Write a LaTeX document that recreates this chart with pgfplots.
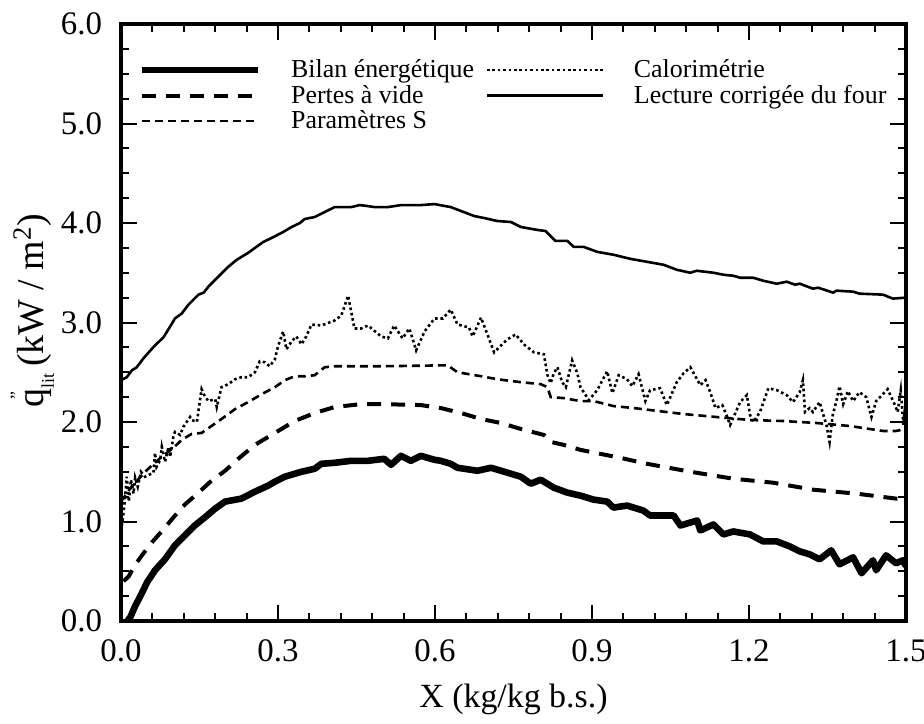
\documentclass[border=0pt]{standalone}
\usepackage{pgfplots}
\pgfplotsset{compat=1.18}
\usepackage{fontspec}
\setmainfont{Liberation Serif}

\begin{document}
\begin{tikzpicture}
\begin{axis}[
  name=ax,
  scale only axis,
  width=392.5bp, height=298.5bp,
  xmin=0, xmax=1.5, ymin=0, ymax=6,
  xtick={0,0.3,0.6,0.9,1.2,1.5},
  xticklabels={0.0,0.3,0.6,0.9,1.2,1.5},
  ytick={0,1,2,3,4,5,6},
  yticklabels={0.0,1.0,2.0,3.0,4.0,5.0,6.0},
  minor x tick num=4, minor y tick num=3,
  tick align=inside,
  major tick length=8bp, minor tick length=4bp,
  every tick/.style={black, line width=1bp},
  axis line style={line width=1.7bp},
  tick label style={font=\fontsize{16.5}{18}\selectfont},
  xticklabel style={yshift=-6bp},
  yticklabel style={xshift=-6bp},
  xlabel={X (kg/kg b.s.)},
  ylabel={q\llap{\raisebox{1.2ex}{\small ''\,}}\raisebox{-0.6ex}{\small lit}\,(kW / m\textsuperscript{2})},
  xlabel style={font=\fontsize{17}{19}\selectfont, at={(axis description cs:0.5,-0.131)}, anchor=center},
  ylabel style={font=\fontsize{19}{21}\selectfont, at={(axis description cs:-0.113,0.52)}, anchor=center},
  legend columns=2,
  legend style={
    at={(axis description cs:0,1)}, anchor=north west,
    xshift=9bp, yshift=-17bp,
    draw=none, fill=none, inner sep=0pt, outer sep=0pt,
    font=\fontsize{13}{14}\selectfont,
    nodes={inner sep=0.8bp},
    row sep=0.6bp,
    /tikz/every even column/.append style={column sep=5bp},
  },
  legend cell align=left,
  legend image code/.code={\draw[#1] (0bp,0bp) -- (58bp,0bp); \path (72bp,0bp) (0bp,0bp);},
]
% energy balance (thick solid)
\addplot[black, line width=3.3bp, line join=round] coordinates {
(0.012,0.00)(0.018,0.04)(0.027,0.15)(0.037,0.25)(0.050,0.39)(0.065,0.51)(0.084,0.62)
(0.103,0.76)(0.122,0.86)(0.141,0.96)(0.160,1.04)(0.180,1.13)(0.199,1.20)(0.230,1.23)
(0.256,1.30)(0.281,1.36)(0.294,1.40)(0.313,1.45)(0.345,1.50)(0.370,1.53)(0.383,1.58)
(0.408,1.59)(0.440,1.61)(0.472,1.61)(0.503,1.63)(0.516,1.57)(0.535,1.66)(0.554,1.61)
(0.573,1.66)(0.599,1.62)(0.611,1.61)(0.630,1.58)(0.643,1.54)(0.681,1.51)(0.707,1.54)
(0.739,1.49)(0.764,1.45)(0.783,1.38)(0.802,1.42)(0.827,1.34)(0.853,1.29)(0.878,1.26)
(0.903,1.22)(0.929,1.20)(0.941,1.14)(0.967,1.16)(0.998,1.11)(1.011,1.06)(1.056,1.06)
(1.069,0.96)(1.101,1.01)(1.107,0.91)(1.132,0.97)(1.151,0.87)(1.170,0.90)(1.202,0.87)
(1.227,0.80)(1.253,0.80)(1.278,0.75)(1.297,0.70)(1.316,0.67)(1.335,0.62)(1.357,0.71)
(1.373,0.57)(1.399,0.64)(1.415,0.48)(1.437,0.61)(1.443,0.51)(1.462,0.66)(1.481,0.58)
(1.494,0.61)(1.500,0.55)
};
\addlegendentry{Bilan énergétique}
% calorimetry (dotted)
\addplot[black, line width=1.3bp, dash pattern=on 1.3bp off 1.4bp] coordinates {
(0.000,0.90)(0.004,1.05)(0.008,1.25)(0.011,1.45)(0.015,1.20)(0.019,1.42)(0.024,1.28)
(0.027,1.44)(0.032,1.35)(0.038,1.50)(0.046,1.45)(0.062,1.49)(0.065,1.69)(0.068,1.55)
(0.075,1.62)(0.078,1.75)(0.084,1.60)(0.091,1.75)(0.094,1.65)(0.100,1.85)(0.103,1.90)
(0.113,1.87)(0.119,1.95)(0.132,2.05)(0.135,2.02)(0.145,2.00)(0.154,2.33)(0.160,2.26)
(0.167,2.21)(0.180,2.23)(0.183,2.15)(0.192,2.35)(0.205,2.38)(0.218,2.43)(0.230,2.45)
(0.243,2.45)(0.256,2.50)(0.265,2.61)(0.275,2.60)(0.284,2.56)(0.294,2.63)(0.300,2.76)
(0.310,2.91)(0.316,2.73)(0.326,2.81)(0.335,2.86)(0.345,2.78)(0.354,2.86)(0.364,2.98)
(0.383,2.97)(0.408,3.02)(0.421,3.07)(0.434,3.27)(0.446,2.94)(0.459,2.94)(0.472,2.97)
(0.497,2.86)(0.510,2.84)(0.522,2.97)(0.538,2.84)(0.551,2.94)(0.564,2.72)(0.580,2.91)
(0.599,3.04)(0.615,3.04)(0.630,3.13)(0.643,2.98)(0.665,2.95)(0.672,2.86)(0.688,3.05)
(0.713,2.70)(0.738,2.83)(0.754,2.88)(0.770,2.78)(0.789,2.70)(0.808,2.68)(0.815,2.47)
(0.821,2.39)(0.827,2.49)(0.834,2.55)(0.843,2.40)(0.850,2.35)(0.862,2.62)(0.872,2.49)
(0.878,2.35)(0.894,2.22)(0.910,2.32)(0.929,2.51)(0.939,2.29)(0.951,2.47)(0.967,2.43)
(0.977,2.36)(0.989,2.48)(1.002,2.21)(1.011,2.32)(1.030,2.34)(1.043,2.17)(1.062,2.40)
(1.075,2.49)(1.088,2.55)(1.107,2.37)(1.117,2.42)(1.126,2.30)(1.136,2.14)(1.149,2.17)
(1.157,2.07)(1.164,1.97)(1.183,2.20)(1.196,2.27)(1.202,2.07)(1.208,2.00)(1.221,2.10)
(1.237,2.34)(1.253,2.32)(1.272,2.27)(1.284,2.20)(1.297,2.30)(1.303,2.42)(1.307,2.10)
(1.316,2.14)(1.322,2.10)(1.335,2.20)(1.341,2.09)(1.348,1.97)(1.354,1.80)(1.360,2.07)
(1.367,2.21)(1.373,2.36)(1.380,2.18)(1.389,2.31)(1.399,2.21)(1.411,2.30)(1.424,2.25)
(1.434,2.05)(1.443,2.21)(1.465,2.33)(1.478,2.18)(1.484,2.10)(1.490,2.32)(1.495,1.97)
(1.500,2.25)
};
\addlegendentry{Calorimétrie}
% no-load losses (long dashes)
\addplot[black, line width=2bp, dash pattern=on 7bp off 5bp] coordinates {
(0.005,0.40)(0.015,0.45)(0.024,0.54)(0.040,0.66)(0.059,0.79)(0.081,0.92)(0.100,1.04)
(0.122,1.17)(0.148,1.29)(0.173,1.41)(0.199,1.51)(0.224,1.63)(0.256,1.77)(0.294,1.89)
(0.332,2.01)(0.370,2.09)(0.408,2.15)(0.459,2.18)(0.497,2.18)(0.573,2.17)(0.611,2.14)
(0.650,2.09)(0.688,2.03)(0.726,1.99)(0.764,1.93)(0.808,1.87)(0.815,1.84)(0.821,1.80)
(0.846,1.77)(0.878,1.72)(0.954,1.64)(1.005,1.58)(1.088,1.50)(1.170,1.43)(1.246,1.39)
(1.322,1.32)(1.405,1.28)(1.481,1.23)(1.500,1.24)
};
\addlegendentry{Pertes à vide}
% corrected oven reading (thin solid)
\addplot[black, line width=1.3bp, line join=round] coordinates {
(0.000,2.42)(0.011,2.45)(0.021,2.52)(0.030,2.55)(0.043,2.64)(0.053,2.70)(0.065,2.77)
(0.081,2.85)(0.094,2.96)(0.103,3.04)(0.116,3.09)(0.129,3.18)(0.148,3.28)(0.158,3.30)
(0.167,3.36)(0.186,3.46)(0.205,3.56)(0.221,3.63)(0.243,3.70)(0.256,3.75)(0.272,3.81)
(0.288,3.85)(0.310,3.91)(0.326,3.96)(0.342,4.00)(0.351,4.04)(0.370,4.06)(0.389,4.11)
(0.408,4.16)(0.440,4.16)(0.456,4.18)(0.472,4.17)(0.484,4.16)(0.510,4.16)(0.535,4.18)
(0.573,4.18)(0.599,4.19)(0.630,4.16)(0.650,4.12)(0.675,4.07)(0.694,4.05)(0.719,4.02)
(0.745,4.01)(0.764,3.96)(0.796,3.93)(0.811,3.92)(0.830,3.82)(0.853,3.82)(0.865,3.76)
(0.884,3.76)(0.910,3.71)(0.942,3.68)(0.973,3.64)(1.005,3.61)(1.037,3.58)(1.062,3.53)
(1.088,3.50)(1.100,3.52)(1.132,3.50)(1.151,3.48)(1.170,3.47)(1.183,3.45)(1.208,3.45)
(1.227,3.42)(1.253,3.39)(1.272,3.41)(1.288,3.38)(1.297,3.39)(1.322,3.34)(1.332,3.35)
(1.361,3.30)(1.367,3.32)(1.399,3.31)(1.411,3.29)(1.456,3.28)(1.475,3.24)(1.500,3.25)
};
\addlegendentry{Lecture corrigée du four}
% S-parameters (short dashes)
\addplot[black, line width=1.3bp, dash pattern=on 4bp off 2.5bp] coordinates {
(0.000,1.20)(0.020,1.35)(0.050,1.52)(0.080,1.66)(0.100,1.74)(0.116,1.82)(0.135,1.88)
(0.154,1.89)(0.173,1.96)(0.192,2.03)(0.218,2.13)(0.243,2.20)(0.269,2.28)(0.294,2.35)
(0.313,2.42)(0.332,2.46)(0.351,2.46)(0.370,2.47)(0.389,2.55)(0.408,2.56)(0.446,2.56)
(0.497,2.56)(0.624,2.57)(0.643,2.50)(0.688,2.46)(0.719,2.43)(0.764,2.40)(0.802,2.38)
(0.815,2.35)(0.821,2.25)(0.846,2.24)(0.878,2.21)(0.903,2.21)(0.941,2.16)(0.980,2.14)
(1.011,2.12)(1.075,2.08)(1.138,2.05)(1.202,2.02)(1.265,2.01)(1.329,1.99)(1.392,1.96)
(1.456,1.91)(1.481,1.91)(1.500,1.93)
};
\addlegendentry{Paramètres S}
\end{axis}
\pgfresetboundingbox
\path ([shift={(-60.5bp,-51.5bp)}]ax.south west) rectangle ([shift={(9bp,12bp)}]ax.north east);
\end{tikzpicture}
\end{document}
